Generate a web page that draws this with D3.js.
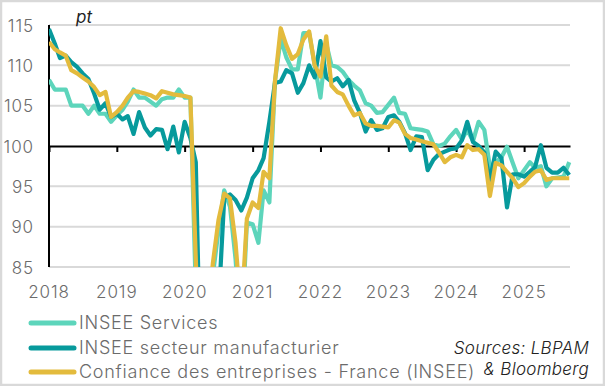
<!DOCTYPE html>
<html>
<head>
<meta charset="utf-8">
<script src="https://cdn.jsdelivr.net/npm/d3@7"></script>
<style>
  body { margin: 0; background: #fff; }
  svg text { font-family: "Inter", "Open Sans", sans-serif; }
  .tickLabel { fill: #6b6b6b; font-size: 17px; font-weight: 300; letter-spacing: 0.9px; }
  .legendText { fill: #6b6b6b; font-size: 18px; font-weight: 300; letter-spacing: 0.75px; }
  .source { fill: #222; font-size: 17px; font-style: italic; font-weight: 300; letter-spacing: 0.3px; }
</style>
</head>
<body>
<div id="chart"></div>
<script>
// Chart data (monthly, Jan 2018 -> Sep 2025)
var startMonth = new Date(2018, 0, 1);

var services = [
  108.2, 107, 107, 107, 105, 105, 105, 104, 105, 104, 104, 103,
  103.8, 104.5, 105.5, 107, 106, 106, 105.5, 105, 105.8, 106, 106, 107,
  106, 106, 82, 50, 60, 84, 89.5, 94.5, 92.5, 86, 76, 90.5,
  90.3, 88, 94.5, 93, 108, 113.3, 111, 109.5, 109.5, 114, 114, 110,
  106, 112.7, 110, 109.8, 109.2, 108.2, 107.5, 106.9, 105.3, 105, 104.1, 104.2,
  105.1, 106, 104.1, 104, 102.2, 102.1, 102, 101.8, 100.2, 100, 100.3, 101.2,
  102, 100.8, 102, 100.6, 103, 102, 97.4, 98, 98.6, 99.9, 97.9, 96,
  97, 98, 97.3, 97.5, 95, 96, 96.1, 96.2, 98
];

var manufacturier = [
  114.5, 112.7, 110.9, 111.2, 110.4, 109.8, 109, 108.3, 106.5, 104.5, 105.3, 103.6,
  104, 103.3, 103.7, 101.5, 104.2, 102.3, 101.3, 102.1, 102, 99.6, 102.4, 99.2,
  103, 101, 98, 66, 72, 78, 80, 93.5, 94, 93.3, 92, 93.6,
  96, 97, 98.5, 103, 107.8, 108, 109.4, 109, 106.6, 107.8, 110, 108.5,
  113, 108.5, 108, 108.4, 107.4, 108.2, 105.7, 104.1, 101.8, 103.2, 102, 102.2,
  103.6, 103.8, 103, 101.6, 99.5, 101.2, 101.1, 97, 98.3, 99, 99.3, 99.6,
  99.7, 100.7, 103, 100.5, 100, 99.2, 95.8, 99.3, 98.5, 92.4, 96.5, 96.5,
  96.2, 96.8, 97.4, 100.1, 97.3, 96.7, 96.7, 97.3, 96.4
];

var confiance = [
  112.9, 112, 111.6, 111.2, 109.4, 109, 108.5, 108, 107.3, 106.3, 106.7, 103.6,
  104.2, 105, 106, 106.8, 106.7, 106.5, 106.3, 105.9, 106.8, 106.6, 106.4, 106.3,
  106.2, 106, 86, 67, 78, 85.5, 90.8, 94.1, 93.5, 88, 79, 91,
  93, 92.3, 96.8, 96, 108, 114.6, 112.5, 110.8, 111.4, 113.2, 114.2, 110,
  108.6, 113.6, 107.5, 106.7, 106.4, 105, 103.8, 104.1, 102.8, 102.5, 102.5, 102.4,
  102.3, 103.2, 102.9, 101.5, 101, 100.8, 100.6, 100.4, 100.2, 99.2, 98, 98.6,
  98.9, 98.6, 100.1, 99.5, 99.6, 98.9, 93.8, 97.9, 97.6, 96.8, 96, 94.9,
  95.4, 96.2, 96.8, 97, 95.8, 96, 96, 96, 96
];

var seriesNames = [
  "INSEE Services",
  "INSEE secteur manufacturier",
  "Confiance des entreprises - France (INSEE)"
];
var seriesColors = ["#5dd5bb", "#079a9c", "#e3bb3d"];

var yTicks = [85, 90, 95, 100, 105, 110, 115];
var yearLabels = ["2018", "2019", "2020", "2021", "2022", "2023", "2024", "2025"];

// SVG size and margins
var svgWidth = 605;
var svgHeight = 386;

var margin = {
  top: 25,
  right: 35,
  bottom: 119,
  left: 49
};

var width = svgWidth - margin.left - margin.right;
var height = svgHeight - margin.top - margin.bottom;

var svg = d3.select("#chart")
  .append("svg")
  .attr("width", svgWidth)
  .attr("height", svgHeight);

// outer frame
svg.append("rect")
  .attr("x", 1)
  .attr("y", 1)
  .attr("width", svgWidth - 2)
  .attr("height", svgHeight - 2)
  .attr("fill", "none")
  .attr("stroke", "#d9d9d9")
  .attr("stroke-width", 2.5);

var chartGroup = svg.append("g")
  .attr("transform", `translate(${margin.left}, ${margin.top})`);

// scales
var months = d3.timeMonth.range(startMonth, d3.timeMonth.offset(startMonth, services.length));

var xTimeScale = d3.scaleTime()
  .domain([startMonth, new Date(2025, 8, 5)])
  .range([0, width]);

var yLinearScale = d3.scaleLinear()
  .domain([85, 115])
  .range([height, 0]);

// horizontal gridlines (100 is the black axis)
chartGroup.append("g")
  .selectAll("line")
  .data(yTicks.filter(d => d !== 100))
  .enter()
  .append("line")
  .attr("x1", 0)
  .attr("x2", width)
  .attr("y1", d => yLinearScale(d))
  .attr("y2", d => yLinearScale(d))
  .attr("stroke", "#d9d9d9")
  .attr("stroke-width", 2);

// y axis labels
var leftAxis = d3.axisLeft(yLinearScale)
  .tickValues(yTicks)
  .tickSize(0)
  .tickPadding(15);

var yAxisGroup = chartGroup.append("g").call(leftAxis);
yAxisGroup.select(".domain").remove();
yAxisGroup.selectAll("text")
  .attr("class", "tickLabel")
  .attr("font-family", null)
  .attr("font-size", null)
  .attr("dy", "0.36em");

// x axis through 100
var yearDates = yearLabels.map(d => new Date(+d, 0, 1));

var bottomAxis = d3.axisBottom(xTimeScale)
  .tickValues(yearDates)
  .tickFormat("")
  .tickSize(6)
  .tickSizeOuter(0);

var xAxisGroup = chartGroup.append("g")
  .attr("transform", `translate(0, ${yLinearScale(100)})`)
  .call(bottomAxis);
xAxisGroup.select(".domain").attr("stroke", "#000").attr("stroke-width", 2);
xAxisGroup.selectAll(".tick line").attr("stroke", "#000").attr("stroke-width", 2);

// year labels at the bottom
chartGroup.selectAll(".yearLabel")
  .data(yearDates)
  .enter()
  .append("text")
  .attr("class", "tickLabel")
  .attr("x", d => xTimeScale(d))
  .attr("y", height + 31)
  .attr("text-anchor", "middle")
  .text((d, i) => yearLabels[i]);

// y axis line
chartGroup.append("line")
  .attr("x1", 0)
  .attr("x2", 0)
  .attr("y1", 0)
  .attr("y2", height)
  .attr("stroke", "#000")
  .attr("stroke-width", 2);

// clip the lines to the plot area
svg.append("defs").append("clipPath")
  .attr("id", "plotClip")
  .append("rect")
  .attr("x", 0)
  .attr("y", -6)
  .attr("width", width + 6)
  .attr("height", height + 6);

var line = d3.line()
  .x((d, i) => xTimeScale(months[i]))
  .y(d => yLinearScale(d));

var allSeries = [services, manufacturier, confiance];

chartGroup.append("g")
  .attr("clip-path", "url(#plotClip)")
  .selectAll("path")
  .data(allSeries)
  .enter()
  .append("path")
  .attr("d", d => line(d))
  .attr("fill", "none")
  .attr("stroke", (d, i) => seriesColors[i])
  .attr("stroke-width", 4.2)
  .attr("stroke-linejoin", "round");

// unit label
chartGroup.append("text")
  .attr("x", 27)
  .attr("y", -2)
  .attr("fill", "#222")
  .attr("font-size", "17px")
  .attr("font-style", "italic")
  .text("pt");

// legend
var legendRows = [323, 348, 372];

var legend = svg.append("g")
  .selectAll("g")
  .data(seriesNames)
  .enter()
  .append("g")
  .attr("transform", (d, i) => `translate(0, ${legendRows[i]})`);

legend.append("line")
  .attr("x1", 31)
  .attr("x2", 74)
  .attr("stroke", (d, i) => seriesColors[i])
  .attr("stroke-width", 5)
  .attr("stroke-linecap", "round");

legend.append("text")
  .attr("class", "legendText")
  .attr("x", 79)
  .attr("y", 6)
  .text(d => d);

// sources
svg.append("text")
  .attr("class", "source")
  .attr("x", 589)
  .attr("y", 354)
  .attr("text-anchor", "end")
  .text("Sources: LBPAM");

svg.append("text")
  .attr("class", "source")
  .attr("x", 589)
  .attr("y", 375)
  .attr("text-anchor", "end")
  .text("& Bloomberg");
</script>
</body>
</html>
